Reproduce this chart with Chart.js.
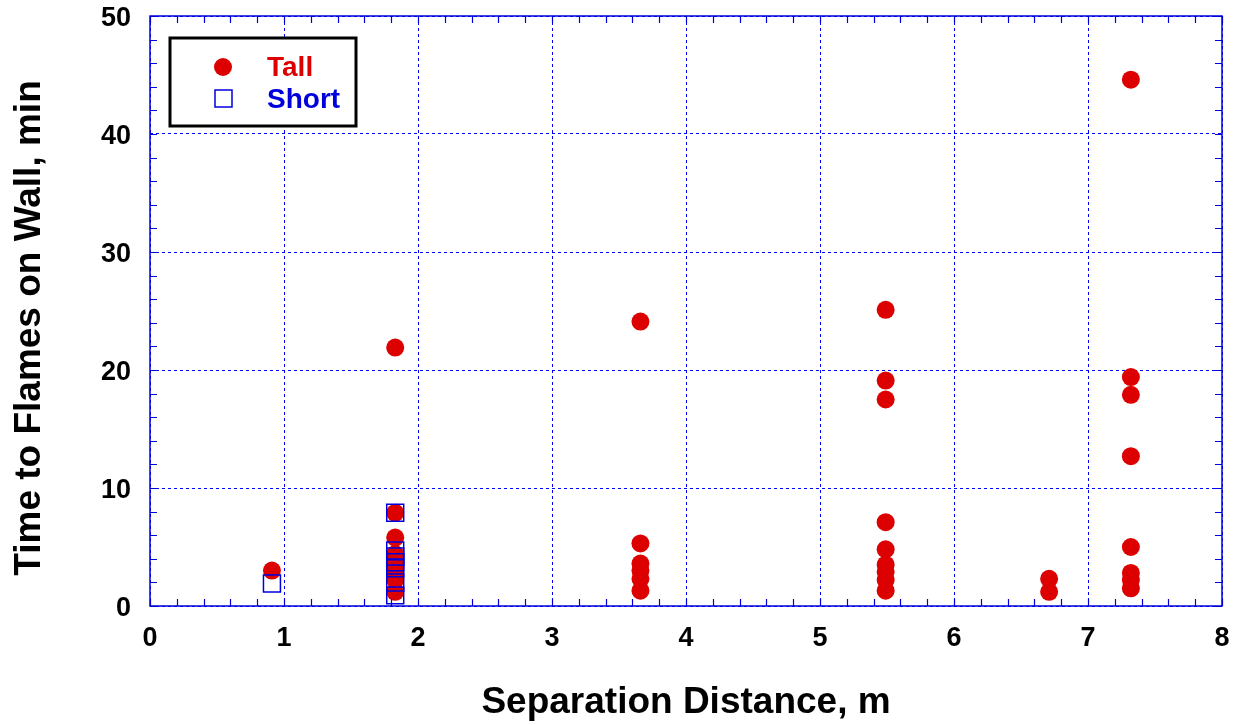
<!DOCTYPE html>
<html>
<head>
<meta charset="utf-8">
<script src="https://cdn.jsdelivr.net/npm/chart.js@4/dist/chart.umd.min.js"></script>
<style>
  html, body { margin: 0; padding: 0; background: #fff; }
  #wrap { width: 1242px; height: 725px; }
</style>
</head>
<body>
<div id="wrap"><canvas id="flameChart"></canvas></div>
<script>
// separation distance (m) and time to flames on wall (min)
const tallX = [0.91,
  1.83, 1.83, 1.83, 1.83, 1.83, 1.83, 1.83, 1.83,
  3.66, 3.66, 3.66, 3.66, 3.66, 3.66,
  5.49, 5.49, 5.49, 5.49, 5.49, 5.49, 5.49, 5.49, 5.49,
  6.71, 6.71,
  7.32, 7.32, 7.32, 7.32, 7.32, 7.32, 7.32, 7.32];
const tallY = [3.0,
  21.9, 7.9, 5.8, 4.4, 3.6, 2.9, 2.2, 1.2,
  24.1, 5.3, 3.6, 3.0, 2.3, 1.3,
  25.1, 19.1, 17.5, 7.1, 4.8, 3.5, 2.9, 2.2, 1.3,
  2.3, 1.2,
  44.6, 19.4, 17.9, 12.7, 5.0, 2.8, 2.2, 1.5];

const shortX = [0.91, 1.83, 1.83, 1.83, 1.83, 1.83, 1.83, 1.83];
const shortY = [1.9, 7.9, 4.7, 4.2, 3.7, 3.2, 2.0, 0.9];

const xTicks = [0, 1, 2, 3, 4, 5, 6, 7, 8];
const yTicks = [0, 10, 20, 30, 40, 50];

const RED = '#dd0000';
const BLUE = '#0000dd';
const FONT = '"Liberation Sans", Arial, sans-serif';

const toPoints = (xs, ys) => xs.map((x, i) => ({ x: x, y: ys[i] }));

// frame, inward ticks, y title and boxed legend
const framePlugin = {
  id: 'frame',
  afterDraw(chart) {
    const ctx = chart.ctx;
    const a = chart.chartArea;
    const xs = chart.scales.x, ys = chart.scales.y;
    ctx.save();
    ctx.strokeStyle = BLUE;
    ctx.lineWidth = 1.5;
    ctx.strokeRect(a.left, a.top, a.right - a.left, a.bottom - a.top);

    ctx.lineWidth = 1.2;
    ctx.beginPath();
    for (let i = 0; i <= 40; i++) {
      const px = Math.round(xs.getPixelForValue(i * 0.2)) + 0.5;
      ctx.moveTo(px, a.bottom); ctx.lineTo(px, a.bottom - 7);
      ctx.moveTo(px, a.top); ctx.lineTo(px, a.top + 7);
    }
    for (let i = 0; i <= 25; i++) {
      const py = Math.round(ys.getPixelForValue(i * 2)) + 0.5;
      ctx.moveTo(a.left, py); ctx.lineTo(a.left + 7, py);
      ctx.moveTo(a.right, py); ctx.lineTo(a.right - 7, py);
    }
    ctx.stroke();

    // y axis title
    ctx.save();
    ctx.translate(30, 328);
    ctx.rotate(-Math.PI / 2);
    ctx.font = 'bold 37px ' + FONT;
    ctx.fillStyle = '#000';
    ctx.textAlign = 'center';
    ctx.textBaseline = 'middle';
    ctx.fillText('Time to Flames on Wall, min', 0, 0);
    ctx.restore();

    // legend box
    ctx.fillStyle = '#fff';
    ctx.fillRect(170, 38, 186, 88);
    ctx.strokeStyle = '#000';
    ctx.lineWidth = 3;
    ctx.strokeRect(170, 38, 186, 88);

    ctx.fillStyle = RED;
    ctx.beginPath();
    ctx.arc(223, 67, 9, 0, Math.PI * 2);
    ctx.fill();
    ctx.strokeStyle = BLUE;
    ctx.lineWidth = 1.5;
    ctx.strokeRect(215, 90, 17, 17);

    ctx.font = 'bold 28px ' + FONT;
    ctx.textBaseline = 'middle';
    ctx.textAlign = 'left';
    ctx.fillStyle = RED;
    ctx.fillText('Tall', 267, 68);
    ctx.fillStyle = BLUE;
    ctx.fillText('Short', 267, 100);
    ctx.restore();
  }
};

new Chart(document.getElementById('flameChart'), {
  type: 'scatter',
  data: {
    datasets: [
      {
        label: 'Short',
        data: toPoints(shortX, shortY),
        pointStyle: 'rect',
        pointRadius: 12,
        pointHoverRadius: 12,
        backgroundColor: 'rgba(0,0,0,0)',
        borderColor: BLUE,
        borderWidth: 1.5,
        order: 0
      },
      {
        label: 'Tall',
        data: toPoints(tallX, tallY),
        pointStyle: 'circle',
        pointRadius: 9,
        pointHoverRadius: 9,
        backgroundColor: RED,
        borderColor: RED,
        borderWidth: 0,
        order: 1
      }
    ]
  },
  options: {
    responsive: true,
    maintainAspectRatio: false,
    animation: false,
    events: [],
    layout: { padding: { top: 16, right: 20, left: 0, bottom: 0 } },
    plugins: {
      legend: { display: false },
      tooltip: { enabled: false }
    },
    scales: {
      x: {
        type: 'linear',
        min: 0, max: 8,
        afterBuildTicks: s => { s.ticks = xTicks.map(v => ({ value: v })); },
        afterFit: s => { s.height = 119; s.paddingLeft = 0; s.paddingRight = 0; },
        grid: { color: '#0000ff', lineWidth: 1, drawTicks: false },
        border: { display: false, dash: [3, 3] },
        ticks: { color: '#000', padding: 16, font: { family: FONT, size: 27, weight: 'bold' } },
        title: {
          display: true,
          text: 'Separation Distance, m',
          color: '#000',
          padding: { top: 10, bottom: 0 },
          font: { family: FONT, size: 37, weight: 'bold' }
        }
      },
      y: {
        type: 'linear',
        min: 0, max: 50,
        afterBuildTicks: s => { s.ticks = yTicks.map(v => ({ value: v })); },
        afterFit: s => { s.width = 150; s.paddingTop = 0; s.paddingBottom = 0; },
        grid: { color: '#0000ff', lineWidth: 1, drawTicks: false },
        border: { display: false, dash: [3, 3] },
        ticks: { color: '#000', padding: 19, labelOffset: 3, font: { family: FONT, size: 27, weight: 'bold' } },
        title: { display: false }
      }
    }
  },
  plugins: [framePlugin]
});
</script>
</body>
</html>
